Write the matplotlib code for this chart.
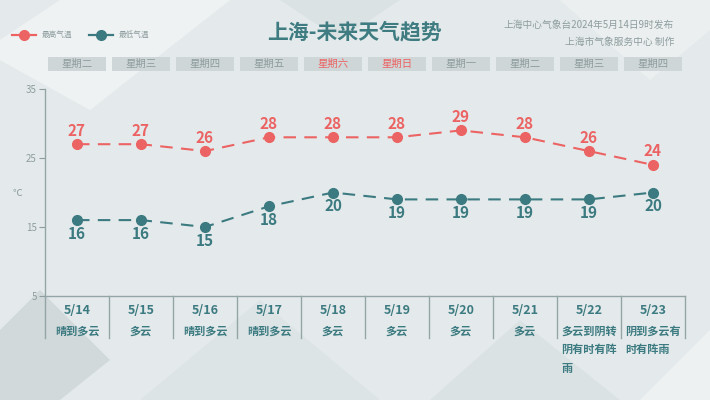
import matplotlib.pyplot as plt
from matplotlib.patches import Polygon, Rectangle
import matplotlib.transforms as mtransforms

plt.rcParams["font.family"] = ["Noto Sans CJK SC", "DejaVu Sans"]

weekdays = ["星期二", "星期三", "星期四", "星期五", "星期六", "星期日", "星期一", "星期二", "星期三", "星期四"]
dates = ["5/14", "5/15", "5/16", "5/17", "5/18", "5/19", "5/20", "5/21", "5/22", "5/23"]
weather = ["晴到多云", "多云", "晴到多云", "晴到多云", "多云", "多云", "多云", "多云",
           "多云到阴转\n阴有时有阵\n雨", "阴到多云有\n时有阵雨"]
high_temps = [27, 27, 26, 28, 28, 28, 29, 28, 26, 24]
low_temps = [16, 16, 15, 18, 20, 19, 19, 19, 19, 20]
y_ticks = [5, 15, 25, 35]

HIGH = "#ec6363"
LOW = "#3b7a80"
GRAY = "#8d9c9e"
AXIS = "#93a5a7"
BG = "#e4eaeb"

fig = plt.figure(figsize=(7.1, 4.0), dpi=100)
fig.patch.set_facecolor(BG)

# faint geometric background shapes
bg = fig.add_axes([0, 0, 1, 1], zorder=-10)
bg.set_xlim(0, 710)
bg.set_ylim(400, 0)
bg.axis("off")
shapes = [
    ([(0, 40), (60, 0), (230, 0), (90, 110), (0, 60)], "#f2f5f5", 0.8),
    ([(0, 330), (40, 290), (110, 360), (60, 400), (0, 400)], "#c9d3d5", 0.7),
    ([(140, 400), (260, 300), (380, 400)], "#d8e0e1", 0.6),
    ([(430, 400), (520, 320), (620, 400)], "#d6dedf", 0.6),
    ([(280, 0), (340, 40), (400, 0)], "#d2dbdc", 0.5),
    ([(560, 0), (650, 80), (710, 30), (710, 0)], "#eef2f2", 0.7),
    ([(640, 400), (710, 330), (710, 400)], "#f0f4f4", 0.8),
]
for pts, col, a in shapes:
    bg.add_patch(Polygon(pts, closed=True, facecolor=col, edgecolor="none", alpha=a))

ax = fig.add_axes([45 / 710, 104 / 400, 640 / 710, 207 / 400])
ax.set_facecolor("none")
x = list(range(len(dates)))
ax.set_xlim(-0.5, len(dates) - 0.5)
ax.set_ylim(5, 35)

ax.plot(x, high_temps, color=HIGH, linestyle=(0, (6, 4)), linewidth=1.5,
        marker="o", markersize=7, zorder=3)
ax.plot(x, low_temps, color=LOW, linestyle=(0, (6, 4)), linewidth=1.5,
        marker="o", markersize=7, zorder=3)
for xi, v in zip(x, high_temps):
    ax.annotate(str(v), (xi, v), xytext=(0, 4), textcoords="offset points",
                ha="center", va="bottom", color=HIGH, fontsize=11, fontweight="bold")
for xi, v in zip(x, low_temps):
    ax.annotate(str(v), (xi, v), xytext=(0, -4), textcoords="offset points",
                ha="center", va="top", color=LOW, fontsize=11, fontweight="bold")

ax.set_xticks([])
ax.set_yticks(y_ticks)
ax.set_yticklabels([str(t) for t in y_ticks])
ax.tick_params(axis="y", colors=GRAY, labelsize=7, length=4, width=0.8, pad=2)
for s in ["top", "right"]:
    ax.spines[s].set_visible(False)
for s in ["left", "bottom"]:
    ax.spines[s].set_color(AXIS)
    ax.spines[s].set_linewidth(1.0)
ax.text(-0.035, 0.5, "℃", transform=ax.transAxes, color=GRAY, fontsize=7,
        ha="right", va="center")

# columns below the axis
trans = mtransforms.blended_transform_factory(ax.transData, ax.transAxes)
for i in range(len(dates) + 1):
    ax.plot([i - 0.5, i - 0.5], [0, -0.205], transform=trans, color=AXIS,
            linewidth=1.0, clip_on=False)
for xi, d, w in zip(x, dates, weather):
    ax.text(xi, -0.072, d, transform=trans, ha="center", va="center",
            color=LOW, fontsize=9, fontweight="bold")
    ax.text(xi, -0.138, w, transform=trans, ha="center", va="top",
            multialignment="left", color=LOW, fontsize=8, fontweight="bold",
            linespacing=1.55)

# weekday boxes above the axis
for xi, d in zip(x, weekdays):
    ax.add_patch(Rectangle((xi - 0.46, 1.085), 0.92, 0.07, transform=trans,
                           facecolor="#cfd6d7", edgecolor="none", clip_on=False))
    col = HIGH if d in ("星期六", "星期日") else GRAY
    ax.text(xi, 1.12, d, transform=trans, ha="center", va="center",
            color=col, fontsize=7.5)

# title, legend, source
fig.text(355 / 710, 1 - 32 / 400, "上海-未来天气趋势", ha="center", va="center",
         color="#3f7c82", fontsize=15, fontweight="bold")
fig.text(674 / 710, 1 - 25 / 400, "上海中心气象台2024年5月14日9时发布", ha="right",
         va="center", color=GRAY, fontsize=7)
fig.text(674 / 710, 1 - 42 / 400, "上海市气象服务中心 制作", ha="right",
         va="center", color=GRAY, fontsize=7)

for x0, col, label in [(12, HIGH, "最高气温"), (89, LOW, "最低气温")]:
    bg.plot([x0, x0 + 24], [35, 35], color=col, linewidth=1.6)
    bg.plot([x0 + 12], [35], marker="o", color=col, markersize=7)
    bg.text(x0 + 30, 35, label, color=GRAY, fontsize=5.5, va="center", ha="left")

fig.savefig("out.png", dpi=100, facecolor=BG)
